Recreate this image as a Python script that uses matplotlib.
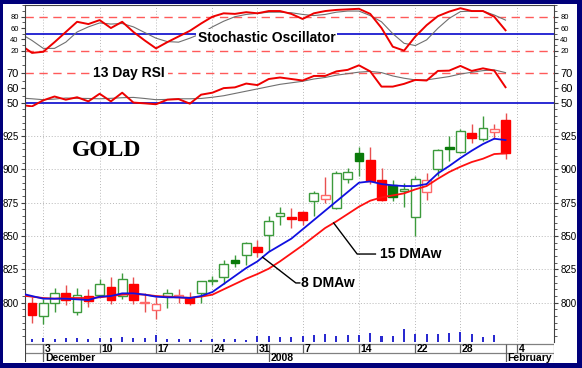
import matplotlib
matplotlib.use('Agg')
import matplotlib.pyplot as plt
import numpy as np
from matplotlib.patches import Rectangle
from matplotlib.ticker import MultipleLocator, FixedLocator

plt.rcParams['font.family'] = ['Liberation Sans', 'DejaVu Sans']

# ---------------- data ----------------
dates = ['2007-11-30',
         '2007-12-03', '2007-12-04', '2007-12-05', '2007-12-06', '2007-12-07',
         '2007-12-10', '2007-12-11', '2007-12-12', '2007-12-13', '2007-12-14',
         '2007-12-17', '2007-12-18', '2007-12-19', '2007-12-20', '2007-12-21',
         '2007-12-24', '2007-12-26', '2007-12-27', '2007-12-28', '2007-12-31',
         '2008-01-02', '2008-01-03', '2008-01-04',
         '2008-01-07', '2008-01-08', '2008-01-09', '2008-01-10', '2008-01-11',
         '2008-01-14', '2008-01-15', '2008-01-16', '2008-01-17', '2008-01-18',
         '2008-01-22', '2008-01-23', '2008-01-24', '2008-01-25',
         '2008-01-28', '2008-01-29', '2008-01-30', '2008-01-31', '2008-02-01']
axis_dates = dates + ['2008-02-04']

opens = [800, 790, 800, 807, 793, 805, 806, 812, 805, 814, 800, 794.5, 805, 804, 804,
         807, 816, 819, 832, 836, 842, 851, 865, 864, 868, 876, 878, 871, 892.5,
         912, 907, 892, 888, 884, 864, 883, 900, 917, 913, 927, 923, 928, 937]
highs = [804, 803, 811, 813, 811, 810, 818, 819, 822, 819, 807, 804, 810, 810, 808,
         816.5, 820, 832, 835.5, 845.5, 847, 865, 872, 871, 869, 884, 894, 899, 901,
         917, 917, 901, 892, 890, 895, 897, 915, 925, 930, 934, 940, 934, 942]
lows = [785, 784, 793, 798, 791, 797, 804, 799, 803, 799, 793, 788, 796, 800, 798,
        800, 813, 814, 827, 828, 834, 839, 858, 856, 858, 865, 875, 870, 890,
        895, 889, 876, 876, 872, 850, 877, 895, 906, 912.5, 920, 921.5, 923, 908]
closes = [791, 800, 807, 802, 806, 801, 814, 802, 818, 802, 800.5, 799, 807, 806, 800,
          816, 817, 829, 830, 845, 838, 861, 867, 863, 862, 882, 881, 897, 898,
          906, 891, 877, 879, 885, 893, 892, 914.5, 915, 929, 923.5, 931, 930, 912]
volume = [33, 43, 33, 43, 43, 33, 43, 43, 50, 43, 43, 67, 27, 33, 33, 17, 27, 33, 33,
          23, 60, 60, 50, 50, 57, 67, 77, 60, 67, 73, 90, 60, 57, 127, 83, 83, 83, 90,
          100, 77, 50, 73, 0]

# moving averages and indicators start one session earlier (2007-11-29)
ma8 = [807, 805, 803, 803, 803, 802.5, 802, 804.5, 805, 807, 807, 806, 804.5, 804, 804,
       803.5, 805, 808, 814, 820, 826, 831, 838, 843, 848, 855, 862, 869, 876, 883,
       890, 891, 889, 888, 887.5, 887.5, 889, 897, 902.5, 908.5, 914, 919, 923, 922]
ma15 = [805.5, 804.5, 803.5, 803, 803.5, 803.5, 803.5, 804, 805, 806, 806.5, 806, 805,
        804.5, 804, 803.5, 804.5, 806, 810, 814, 818, 821.5, 825.5, 831, 837, 843,
        849.5, 856, 861, 866.5, 872, 876.5, 879, 880.5, 882, 885, 887.5, 893, 898, 902,
        905.5, 908, 911.5, 912]
stoch_k = [30, 16, 18, 35, 53, 71, 67, 74, 60, 71, 53, 38, 24, 35, 45, 55, 68, 80, 86,
           85, 88, 86, 90, 90, 85, 76, 86, 90, 92, 93, 94, 85, 60, 27, 20, 45, 65, 81,
           89, 95, 90, 90, 80, 56]
stoch_d = [50, 38, 24, 24, 35, 53, 62, 69, 67, 68, 62, 52, 42, 36, 35, 42, 50, 62, 72,
           80, 84, 86, 88, 88, 87, 84, 82, 84, 88, 90, 90, 82, 71, 50, 33, 29, 39, 59.5,
           77, 89, 90, 90, 83, 74]
rsi = [49, 48, 52, 54.5, 52.4, 54, 51.3, 56.3, 51.3, 57, 50.5, 50, 49.4, 52.4, 52.8,
       49.8, 55.7, 57, 60, 60.5, 63, 62, 66, 67, 66, 65, 68, 68, 71, 72, 75, 71, 61,
       61, 62.8, 65.4, 65, 71.3, 71.5, 74.6, 71.3, 73, 71.5, 60.6]
rsi_ma = [53.5, 53, 52.4, 52.8, 53.5, 53.3, 53.2, 53, 53.3, 53.7, 53.9, 53.2, 52.4,
          52.6, 53, 53, 53.2, 54, 55, 56.5, 58, 59.5, 61, 62.5, 63.5, 64.5, 66, 67,
          68.5, 69.5, 70.5, 71, 70.2, 68, 66.5, 65.4, 65.4, 66.5, 67.6, 69.3, 70.4,
          71.5, 72, 70.2]

week_dates = ['2007-12-03', '2007-12-10', '2007-12-17', '2007-12-24', '2007-12-31',
              '2008-01-07', '2008-01-14', '2008-01-22', '2008-01-28', '2008-02-04']
week_labels = ['3', '10', '17', '24', '31', '7', '14', '22', '28', '4']
month_dates = ['2007-12-03', '2008-01-02', '2008-02-01']
month_labels = ['December', '2008', 'February']

# ---------------- figure ----------------
W, H = 582, 368
fig = plt.figure(figsize=(W / 100, H / 100), dpi=100)
fig.patch.set_facecolor('#00007a')
fig.add_artist(Rectangle((3 / W, 1 - 363 / H), (577 - 3) / W, (363 - 4) / H,
                         transform=fig.transFigure, facecolor='white',
                         edgecolor='none', zorder=0))


def px_axes(x0, y0, x1, y1, **kw):
    return fig.add_axes([x0 / W, 1 - y1 / H, (x1 - x0) / W, (y1 - y0) / H], **kw)


n = len(dates)
x = np.arange(n)
xi = np.arange(-1, n)
XL = (-0.62, 46.3)
week_idx = [axis_dates.index(d) for d in week_dates]
month_idx = [axis_dates.index(d) for d in month_dates]

AX_COL = '#404040'
GRID = dict(color='#b8b8b8', lw=0.7, ls=(0, (1, 2)))


def style_axis(ax, majors, minor_step, lab_size):
    ax.set_xlim(*XL)
    ax.set_facecolor('none')
    ax.yaxis.set_major_locator(FixedLocator(majors))
    ax.yaxis.set_minor_locator(MultipleLocator(minor_step))
    ax.tick_params(axis='y', which='both', left=True, right=True, labelleft=True,
                   labelright=True, direction='out', colors=AX_COL,
                   labelcolor='black', labelsize=lab_size, pad=1.5)
    ax.tick_params(axis='y', which='major', length=3, width=0.8)
    ax.tick_params(axis='y', which='minor', length=2, width=0.6)
    ax.tick_params(axis='x', bottom=False, labelbottom=False)
    ax.set_xticks(week_idx)
    ax.grid(axis='x', **GRID)
    for s in ('top', 'bottom'):
        ax.spines[s].set_visible(False)
    for s in ('left', 'right'):
        ax.spines[s].set_color(AX_COL)
        ax.spines[s].set_linewidth(0.8)


RED = '#ee0000'
GRAY = '#707070'
BLUE = '#1a1ad0'
DASH_RED = '#ff5a5a'

# ---- stochastic ----
ax_st = px_axes(25, 5, 554, 58)
style_axis(ax_st, [20, 40, 60, 80], 10, 5.5)
ax_st.spines['top'].set_visible(True)
ax_st.spines['top'].set_color(AX_COL)
ax_st.set_ylim(7, 100.7)
ax_st.axhline(80, color=DASH_RED, lw=1, ls=(0, (6, 4)))
ax_st.axhline(20, color=DASH_RED, lw=1, ls=(0, (6, 4)))
ax_st.axhline(50, color=BLUE, lw=1.3)
ax_st.plot(xi, stoch_d, color=GRAY, lw=0.8)
ax_st.plot(xi, stoch_k, color=RED, lw=1.4)
ax_st.text(20.8, 42, 'Stochastic Oscillator', fontsize=10, fontweight='bold',
           ha='center', va='center',
           bbox=dict(facecolor='white', edgecolor='none', pad=1.5))

# ---- RSI ----
ax_rsi = px_axes(25, 58, 554, 107)
style_axis(ax_rsi, [50, 60, 70], 5, 8)
ax_rsi.set_ylim(47.6, 79.8)
ax_rsi.axhline(70, color=DASH_RED, lw=1, ls=(0, (6, 4)))
ax_rsi.axhline(50, color=BLUE, lw=1.3)
ax_rsi.plot(xi, rsi_ma, color=GRAY, lw=0.8)
ax_rsi.plot(xi, rsi, color=RED, lw=1.4)
ax_rsi.text(8.6, 70, '13 Day RSI', fontsize=10, fontweight='bold',
            ha='center', va='center',
            bbox=dict(facecolor='white', edgecolor='none', pad=2))

# ---- price ----
ax_pr = px_axes(25, 107, 554, 342)
style_axis(ax_pr, [800, 825, 850, 875, 900, 925], 5, 7)
ax_pr.set_ylim(770.5, 946.8)
ax_pr.grid(axis='y', **GRID)
ax_pr.set_axisbelow(True)

o = np.array(opens); c = np.array(closes); hi = np.array(highs); lo = np.array(lows)
prev = np.concatenate([[o[0]], c[:-1]])
up_day = c >= prev
hollow = c >= o
GREEN_EDGE = '#3c9a3c'
GREEN_FILL = '#0a7a0a'
RED_EDGE = '#ff6a6a'
RED_FILL = '#ff0000'
for i in range(n):
    if up_day[i]:
        edge = GREEN_EDGE if hollow[i] else GREEN_FILL
        face = 'white' if hollow[i] else GREEN_FILL
        wick = GREEN_EDGE
    else:
        edge = RED_EDGE if hollow[i] else RED_FILL
        face = 'white' if hollow[i] else RED_FILL
        wick = '#e85050'
    ax_pr.vlines(x[i], lo[i], hi[i], color=wick, lw=1.0, zorder=2)
    bot = min(o[i], c[i])
    hgt = max(abs(c[i] - o[i]), 0.8)
    ax_pr.bar(x[i], hgt, bottom=bot, width=0.78, facecolor=face, edgecolor=edge,
              lw=1.0, zorder=3)

ax_pr.plot(xi, ma15, color='#ff1010', lw=1.3, zorder=4)
ax_pr.plot(xi, ma8, color='#1010e0', lw=1.3, zorder=5)

ax_pr.text(3.55, 914.5, 'GOLD', family=['Liberation Serif'], fontsize=17,
           fontweight='bold', ha='left', va='center')

xa = 20.45
ya = np.interp(xa, xi, ma8)
ax_pr.plot([xa, 23.4, 23.75], [ya, 814.8, 814.8], color='black', lw=1, zorder=6)
ax_pr.text(23.85, 814.8, '8 DMAw', fontsize=10, fontweight='bold', ha='left',
           va='center')
xb = 26.76
yb = np.interp(xb, xi, ma15)
ax_pr.plot([xb, 28.84, 30.46], [yb, 836.5, 836.5], color='black', lw=1, zorder=6)
ax_pr.text(30.9, 836.5, '15 DMAw', fontsize=10, fontweight='bold', ha='left',
           va='center')

# ---- volume overlay ----
ax_v = px_axes(25, 322, 554, 342)
ax_v.set_xlim(*XL)
ax_v.set_ylim(0, 200)
ax_v.axis('off')
ax_v.bar(x, volume, width=0.18, color='#2a2ad0')

# ---- date axis ----
ax_d = px_axes(25, 342, 554, 362)
ax_d.set_xlim(*XL)
ax_d.set_ylim(20, 0)
ax_d.axis('off')
ax_d.hlines([1.5, 11], XL[0], XL[1], color='#808080', lw=0.9)
ax_d.vlines([XL[0], XL[1]], 0, 20, color=AX_COL, lw=0.8)
for idx, lab in zip(week_idx, week_labels):
    ax_d.vlines(idx, 1.5, 11, color='#606060', lw=0.9)
    ax_d.text(idx + 0.15, 6.5, lab, fontsize=7.5, fontweight='bold',
              ha='left', va='center')
for idx, lab in zip(month_idx, month_labels):
    ax_d.vlines(idx, 1.5, 20, color='#606060', lw=0.9)
    ax_d.text(idx + 0.15, 16, lab, fontsize=7.5, fontweight='bold',
              ha='left', va='center')

fig.savefig('out.png', dpi=100, facecolor=fig.get_facecolor())
